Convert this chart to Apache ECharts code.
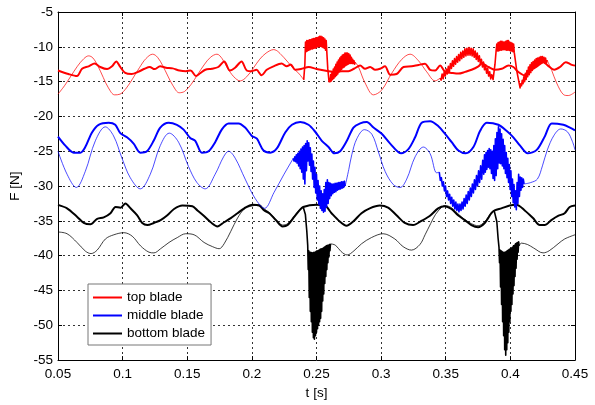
<!DOCTYPE html>
<html><head><meta charset="utf-8">
<script src="https://cdn.jsdelivr.net/npm/echarts@6/dist/echarts.min.js"></script>
<style>html,body{margin:0;padding:0;background:#fff}#c{width:595px;height:405px}</style>
</head><body><div id="c"></div>
<script>
// ---- data: [t (s), F (N)] ; null marks a gap between segments ----
const topThick = [[0.05,-13.4],[0.058,-13.9],[0.0647,-14.2],[0.0686,-13.15],[0.0737,-12.8],[0.0784,-12.4],[0.0827,-12.9],[0.088,-13.2],[0.0918,-12.8],[0.0951,-12.1],[0.0982,-12.9],[0.102,-13.75],[0.107,-13.9],[0.112,-13.6],[0.117,-13.15],[0.121,-12.9],[0.1247,-13.2],[0.129,-12.8],[0.1335,-13.0],[0.1387,-13.1],[0.144,-13.4],[0.149,-13.5],[0.1526,-13.4],[0.1567,-14.2],[0.160,-13.8],[0.164,-13.3],[0.169,-13.15],[0.174,-12.9],[0.1786,-12.1],[0.183,-13.4],[0.187,-13.0],[0.192,-12.1],[0.196,-13.4],[0.2,-13.5],[0.2035,-13.3],[0.2075,-14.1],[0.2115,-13.3],[0.2167,-12.8],[0.223,-12.4],[0.227,-12.8],[0.230,-12.55],[0.2335,-13.3],[0.238,-13.2],[0.244,-12.9],[0.250,-13.2],[0.2593,-13.5],[0.2644,-13.6],[0.2696,-13.5],[0.2747,-13.5],[0.279,-13.15],[0.2838,-12.7],[0.2876,-13.15],[0.2915,-12.9],[0.2954,-13.3],[0.2992,-13.15],[0.303,-12.8],[0.307,-14.0],[0.312,-13.9],[0.3173,-12.9],[0.3237,-12.8],[0.3289,-12.6],[0.334,-12.45],[0.3379,-13.3],[0.3418,-13.4],[0.3456,-12.7],[0.3495,-13.6],[0.3546,-13.75],[0.3598,-13.85],[0.365,-13.6],[0.370,-13.3],[0.3753,-12.8],[0.378,-12.4],[0.383,-12.9],[0.388,-13.3],[0.3933,-13.15],[0.3985,-12.7],[0.4023,-12.9],[0.406,-13.6],[0.4108,-14.1],[0.415,-13.4],[0.420,-12.9],[0.4255,-12.2],[0.429,-12.7],[0.434,-13.3],[0.4384,-12.9],[0.4428,-12.2],[0.447,-12.55],[0.45,-12.7]];

const topThin = [[0.05,-16.8],[0.055,-15.6],[0.06,-14.2],[0.065,-12.8],[0.07,-11.7],[0.0737,-11.3],[0.077,-11.6],[0.081,-12.8],[0.085,-14.4],[0.089,-15.9],[0.0938,-16.9],[0.098,-16.8],[0.103,-15.9],[0.108,-14.5],[0.113,-13.0],[0.118,-11.7],[0.1232,-11.06],[0.127,-11.5],[0.131,-12.7],[0.135,-14.2],[0.139,-15.6],[0.1438,-16.6],[0.148,-16.4],[0.153,-15.4],[0.158,-14.0],[0.163,-12.6],[0.168,-11.5],[0.173,-11.06],[0.177,-11.7],[0.181,-13.0],[0.186,-14.3],[0.191,-14.9],[0.196,-14.3],[0.201,-13.1],[0.206,-11.8],[0.211,-10.9],[0.2168,-10.4],[0.2246,-11.5],[0.231,-12.9],[0.2362,-13.8],[0.2388,-14.4],[0.2401,-14.75],
[0.2801,null],
[0.2800,-12.2],[0.2825,-12.9],[0.2876,-15.2],[0.2941,-16.9],[0.3005,-16.2],[0.3082,-13.8],[0.316,-11.8],[0.3224,-11.06],[0.3289,-12.0],[0.3353,-13.6],[0.3418,-14.9],[0.3456,-14.5],
[0.4280,null],
[0.4284,-11.9],[0.432,-13.4],[0.4358,-15.2],[0.441,-16.85],[0.4448,-17.0],[0.45,-16.5]];

const topBurst = [[0.2401,-14.75],[0.2410,-12.5],
[0.2415,-9.3],[0.2420,-10.7],[0.2425,-9.1],[0.2430,-10.6],[0.2435,-9.1],[0.2440,-10.5],[0.2445,-9.0],[0.2450,-10.4],[0.2455,-9.0],[0.2460,-10.3],[0.2465,-8.9],[0.2470,-10.3],[0.2475,-8.8],[0.2480,-10.2],[0.2485,-8.8],[0.2490,-10.2],[0.2495,-8.7],[0.2500,-10.1],[0.2505,-8.7],[0.2510,-10.0],[0.2515,-8.6],[0.2520,-10.0],[0.2525,-8.5],[0.2530,-9.9],[0.2535,-8.5],[0.2540,-10.0],[0.2545,-8.6],[0.2550,-10.1],[0.2555,-8.7],[0.2560,-10.2],[0.2565,-8.9],[0.2570,-10.5],[0.2575,-9.1],[0.2580,-10.8],[0.2587,-13.1],[0.2597,-15.0],
[0.2600,-14.6],[0.2605,-15.0],[0.2610,-14.0],[0.2615,-14.9],[0.2620,-13.6],[0.2625,-14.7],[0.2630,-13.2],[0.2635,-14.5],[0.2640,-12.9],[0.2645,-14.3],[0.2650,-12.5],[0.2655,-14.1],[0.2660,-12.2],[0.2665,-13.9],[0.2670,-11.9],[0.2675,-13.6],[0.2680,-11.6],[0.2685,-13.4],[0.2690,-11.4],[0.2695,-13.2],[0.2700,-11.2],[0.2705,-13.0],[0.2710,-11.1],[0.2715,-12.9],[0.2720,-10.9],[0.2725,-12.7],[0.2730,-10.9],[0.2735,-12.6],[0.2740,-10.9],[0.2745,-12.5],[0.2750,-11.0],[0.2755,-12.4],[0.2760,-11.2],[0.2765,-12.4],[0.2770,-11.5],[0.2775,-12.4],[0.2780,-11.8],[0.2785,-12.4],[0.2790,-12.0],[0.2795,-12.5],[0.2800,-12.2],
[0.3450,null],
[0.3456,-14.5],[0.3464,-14.8],[0.3472,-13.9],[0.3480,-14.6],[0.3488,-13.6],[0.3496,-14.2],[0.3504,-13.2],[0.3512,-13.9],[0.3520,-12.8],[0.3528,-13.6],[0.3536,-12.4],[0.3544,-13.1],[0.3552,-12.0],[0.3560,-12.8],[0.3568,-11.7],[0.3576,-12.5],[0.3584,-11.4],[0.3592,-12.2],[0.3600,-11.1],[0.3608,-12.0],[0.3616,-10.8],[0.3624,-11.7],[0.3632,-10.6],[0.3640,-11.5],[0.3648,-10.3],[0.3656,-11.3],[0.3664,-10.2],[0.3672,-11.2],[0.3680,-10.1],[0.3688,-11.2],[0.3696,-10.2],[0.3704,-11.3],[0.3712,-10.3],[0.3720,-11.5],[0.3728,-10.6],[0.3736,-11.8],[0.3744,-10.9],[0.3752,-12.1],[0.3760,-11.3],[0.3768,-12.4],[0.3776,-11.8],[0.3784,-12.9],[0.3792,-12.2],[0.3800,-13.3],[0.3808,-12.6],[0.3816,-13.8],[0.3824,-13.1],[0.3832,-14.2],[0.3840,-13.6],[0.3848,-14.6],[0.3856,-14.0],[0.3866,-14.7],[0.3881,-12.5],[0.3890,-10.5],
[0.3895,-9.6],[0.3900,-10.6],[0.3905,-9.4],[0.3910,-10.6],[0.3915,-9.3],[0.3920,-10.5],[0.3925,-9.2],[0.3930,-10.5],[0.3935,-9.2],[0.3940,-10.4],[0.3945,-9.3],[0.3950,-10.4],[0.3955,-9.3],[0.3960,-10.4],[0.3965,-9.2],[0.3970,-10.5],[0.3975,-9.1],[0.3980,-10.5],[0.3985,-9.1],[0.3990,-10.5],[0.3995,-9.3],[0.4000,-10.6],[0.4005,-9.4],[0.4010,-10.6],[0.4015,-9.5],[0.4020,-10.7],[0.4025,-9.6],[0.4030,-10.8],[0.4049,-13.4],[0.4075,-15.9],
[0.4080,-15.3],[0.4086,-15.6],[0.4092,-14.8],[0.4098,-15.3],[0.4104,-14.3],[0.4110,-15.0],[0.4116,-13.8],[0.4122,-14.7],[0.4128,-13.4],[0.4134,-14.3],[0.4140,-12.9],[0.4146,-14.0],[0.4152,-12.6],[0.4158,-13.7],[0.4164,-12.3],[0.4170,-13.4],[0.4176,-12.1],[0.4182,-13.1],[0.4188,-11.9],[0.4194,-12.9],[0.4200,-11.7],[0.4206,-12.7],[0.4212,-11.6],[0.4218,-12.5],[0.4224,-11.5],[0.4230,-12.4],[0.4236,-11.4],[0.4242,-12.3],[0.4248,-11.4],[0.4254,-12.2],[0.4260,-11.5],[0.4266,-12.3],[0.4272,-11.6],[0.4278,-12.4],[0.4284,-11.9]];

const midThick = [[0.05,-22.9],[0.0557,-24.2],[0.0621,-25.2],[0.0673,-25.2],[0.0711,-24.4],[0.0763,-22.3],[0.0814,-21.2],[0.0892,-20.9],[0.0943,-21.2],[0.0982,-22.4],[0.1034,-23.0],[0.1085,-23.9],[0.1137,-25.2],[0.1188,-25.0],[0.124,-23.5],[0.1291,-21.6],[0.1356,-20.9],[0.142,-21.2],[0.1472,-21.9],[0.1523,-23.1],[0.1562,-23.5],[0.1613,-25.2],[0.1665,-25.0],[0.1716,-23.7],[0.1768,-21.85],[0.182,-21.0],[0.1897,-21.0],[0.1948,-21.6],[0.2,-22.8],[0.2039,-23.2],[0.209,-24.9],[0.2142,-25.2],[0.2193,-24.6],[0.2258,-22.3],[0.231,-21.2],[0.2374,-20.8],[0.2438,-21.2],[0.249,-22.2],[0.2541,-23.5],[0.2593,-24.4],[0.2639,-25.3],[0.2683,-25.0],[0.2735,-23.5],[0.2786,-21.6],[0.2838,-21.0],[0.2889,-20.8],[0.2941,-21.6],[0.3005,-22.5],[0.307,-23.9],[0.3155,-25.3],[0.3211,-24.7],[0.3263,-23.0],[0.3314,-20.9],[0.3379,-20.7],[0.3443,-21.4],[0.3495,-22.5],[0.3546,-23.7],[0.3598,-24.9],[0.3655,-25.3],[0.3714,-24.4],[0.3765,-22.1],[0.3817,-20.9],[0.3907,-21.2],[0.3972,-22.1],[0.4023,-23.0],[0.4075,-24.2],[0.4134,-25.3],[0.4204,-24.8],[0.4268,-22.8],[0.432,-21.0],[0.441,-21.2],[0.4461,-21.6],[0.45,-22.0]];

const midThin = [[0.05,-25.0],[0.057,-28.3],[0.0642,-30.2],[0.0711,-27.9],[0.0789,-23.5],[0.0866,-21.5],[0.093,-22.8],[0.0995,-26.0],[0.1059,-28.8],[0.1137,-30.4],[0.1214,-28.3],[0.1291,-24.2],[0.1361,-22.4],[0.1433,-23.7],[0.151,-27.2],[0.1575,-29.5],[0.1639,-30.4],[0.1716,-28.3],[0.1781,-25.8],[0.182,-25.0],[0.1871,-26.0],[0.1948,-29.0],[0.2026,-31.8],[0.2098,-33.2],[0.2172,-30.9],[0.2249,-28.3],[0.2313,-26.25],[0.2320,-26.0],
[0.2721,null],
[0.2722,-30.0],[0.2750,-27.6],[0.2773,-25.5],[0.2812,-23.2],[0.2871,-21.9],[0.2928,-22.55],[0.2979,-25.1],[0.3031,-27.9],[0.3095,-29.8],[0.3147,-30.2],[0.3198,-29.0],[0.3263,-25.8],[0.3327,-24.4],[0.3379,-25.35],[0.3430,-28.1],[0.3450,-28.0],
[0.4105,null],
[0.4106,-29.7],[0.4157,-29.5],[0.4209,-29.0],[0.4248,-27.1],[0.4286,-24.8],[0.4338,-22.7],[0.439,-21.8],[0.4441,-22.2],[0.448,-23.6],[0.45,-24.8]];

const midBurst = [[0.2320,-26.0],[0.2326,-26.4],[0.2332,-25.8],[0.2338,-26.5],[0.2344,-25.5],[0.2350,-26.7],[0.2356,-25.3],[0.2362,-27.1],[0.2368,-25.0],[0.2374,-27.5],[0.2380,-24.7],[0.2386,-28.0],[0.2392,-24.4],[0.2398,-29.0],[0.2404,-24.2],[0.2410,-29.7],[0.2416,-23.9],[0.2422,-27.8],[0.2428,-23.5],[0.2434,-26.4],[0.2440,-23.8],[0.2446,-27.0],[0.2452,-24.5],[0.2458,-27.9],[0.2464,-25.4],[0.2470,-29.0],[0.2476,-26.4],[0.2482,-30.2],[0.2488,-27.3],[0.2494,-31.0],[0.2500,-28.3],[0.2506,-32.0],[0.2512,-29.2],[0.2518,-32.6],[0.2524,-30.0],[0.2530,-33.2],[0.2536,-30.7],[0.2542,-33.5],[0.2548,-31.1],[0.2554,-33.75],[0.2560,-30.5],[0.2566,-33.6],[0.2572,-29.5],[0.2578,-33.0],[0.2584,-29.1],[0.2590,-32.5],[0.2596,-29.5],[0.2602,-31.8],[0.2608,-29.6],[0.2614,-31.4],[0.2620,-29.7],[0.2626,-31.1],[0.2632,-29.7],[0.2638,-30.9],[0.2644,-29.6],[0.2650,-30.8],[0.2656,-29.6],[0.2662,-30.6],[0.2668,-29.5],[0.2674,-30.5],[0.2680,-29.5],[0.2686,-30.4],[0.2692,-29.4],[0.2698,-30.3],[0.2704,-29.4],[0.2710,-30.2],[0.2716,-29.3],[0.2722,-30.0],
[0.3440,null],
[0.3450,-28.0],[0.3458,-29.2],[0.3466,-28.8],[0.3474,-30.0],[0.3482,-29.4],[0.3490,-30.7],[0.3498,-30.0],[0.3506,-31.5],[0.3514,-30.7],[0.3522,-32.0],[0.3530,-31.2],[0.3538,-32.5],[0.3546,-31.6],[0.3554,-32.9],[0.3562,-32.0],[0.3570,-33.3],[0.3578,-32.3],[0.3586,-33.5],[0.3594,-32.6],[0.3602,-33.7],[0.3610,-32.6],[0.3618,-33.5],[0.3626,-32.3],[0.3634,-33.3],[0.3642,-31.8],[0.3650,-32.9],[0.3658,-31.3],[0.3666,-32.5],[0.3674,-30.8],[0.3682,-32.0],[0.3690,-30.3],[0.3698,-31.5],[0.3706,-29.7],[0.3714,-31.0],[0.3722,-29.1],[0.3730,-30.5],[0.3738,-28.5],[0.3746,-30.0],[0.3754,-27.8],[0.3762,-29.5],[0.3770,-27.1],[0.3778,-29.0],[0.3786,-26.3],[0.3794,-28.3],[0.3800,-25.5],[0.3806,-28.0],[0.3812,-25.2],[0.3818,-27.6],[0.3824,-24.9],[0.3830,-27.3],[0.3836,-24.6],[0.3842,-27.5],[0.3848,-24.8],[0.3854,-28.2],[0.3860,-25.0],[0.3866,-28.9],[0.3872,-24.2],[0.3878,-29.2],[0.3884,-23.2],[0.3890,-28.5],[0.3896,-22.3],[0.3902,-27.5],[0.3908,-21.5],[0.3914,-26.7],[0.3920,-21.8],[0.3926,-26.8],[0.3932,-22.5],[0.3938,-27.1],[0.3944,-23.3],[0.3950,-27.5],[0.3956,-24.2],[0.3962,-28.2],[0.3968,-25.2],[0.3974,-28.8],[0.3980,-26.0],[0.3986,-29.5],[0.3992,-26.9],[0.3998,-30.5],[0.4004,-27.8],[0.4010,-31.5],[0.4016,-29.0],[0.4022,-32.4],[0.4028,-29.8],[0.4034,-33.0],[0.4040,-30.7],[0.4046,-33.4],[0.4052,-29.5],[0.4058,-32.5],[0.4064,-28.3],[0.4070,-31.5],[0.4076,-28.7],[0.4082,-30.6],[0.4088,-28.8],[0.4094,-30.2],[0.4100,-29.0],[0.4106,-29.7]];

const botThick = [[0.05,-32.7],[0.057,-33.2],[0.0647,-34.4],[0.0699,-35.3],[0.0751,-35.5],[0.0803,-34.7],[0.0854,-34.5],[0.0906,-33.9],[0.0945,-33.0],[0.0984,-33.1],[0.1022,-32.5],[0.1061,-33.2],[0.1113,-34.2],[0.1152,-35.3],[0.1191,-35.6],[0.1242,-35.3],[0.1294,-34.9],[0.1346,-34.2],[0.1398,-33.3],[0.1462,-32.8],[0.154,-32.9],[0.1579,-33.5],[0.163,-34.3],[0.1682,-35.2],[0.1734,-35.8],[0.1785,-35.2],[0.1837,-34.6],[0.1889,-33.9],[0.1941,-33.2],[0.2005,-32.7],[0.2057,-32.8],[0.2096,-33.5],[0.2135,-33.9],[0.2186,-34.9],[0.2238,-35.8],[0.2277,-35.6],[0.2329,-34.4],[0.2368,-33.5],[0.2397,-33.0],[0.25,-32.7],[0.2564,-32.8],[0.2616,-33.9],[0.268,-35.1],[0.2732,-35.7],[0.2784,-35.1],[0.2848,-33.9],[0.2912,-33.2],[0.299,-32.8],[0.3054,-33.1],[0.3119,-34.2],[0.3183,-35.3],[0.3247,-35.6],[0.3312,-35.0],[0.3376,-34.3],[0.3441,-33.2],[0.3492,-32.9],[0.3544,-33.3],[0.3595,-34.2],[0.3647,-34.9],[0.3698,-35.6],[0.375,-35.9],[0.3802,-35.3],[0.3853,-33.9],[0.3879,-33.5],[0.393,-33.2],[0.3995,-32.8],[0.4046,-32.7],[0.4111,-33.5],[0.4175,-34.6],[0.4227,-35.6],[0.4265,-35.6],[0.4317,-34.9],[0.4369,-34.3],[0.442,-33.9],[0.4459,-33.0],[0.45,-32.8]];

const botThin = [[0.05,-36.6],[0.057,-36.85],[0.0647,-38.1],[0.0712,-39.35],[0.0756,-39.7],[0.0803,-39.2],[0.0867,-37.6],[0.0932,-37.0],[0.101,-36.7],[0.1074,-37.2],[0.1139,-38.6],[0.1204,-39.5],[0.1242,-39.6],[0.1294,-39.0],[0.1359,-38.1],[0.1423,-37.4],[0.1488,-36.85],[0.1553,-37.0],[0.163,-38.1],[0.1695,-38.7],[0.1747,-39.0],[0.1785,-38.3],[0.1837,-36.5],[0.1889,-34.6],[0.1941,-33.3],[0.1992,-32.9],[0.2057,-32.7],[0.2096,-33.3],[0.2135,-33.8],[0.2186,-34.8],[0.2238,-35.6],[0.2277,-35.4],[0.2329,-34.3],[0.2368,-33.4],[0.2397,-33.0],
[0.2500,null],
[0.2608,-38.3],[0.2647,-38.5],[0.2690,-39.4],[0.2737,-39.9],[0.2790,-39.3],[0.2848,-38.3],[0.2925,-37.4],[0.3015,-36.85],[0.3106,-37.6],[0.3170,-38.7],[0.3235,-39.2],[0.3300,-38.4],[0.3340,-37.0],[0.3383,-35.4],[0.3420,-34.1],[0.3466,-33.1],[0.3492,-32.8],[0.3544,-33.1],[0.3595,-34.0],[0.3647,-34.8],[0.3698,-35.4],[0.375,-35.7],[0.3802,-35.1],[0.3853,-33.8],[0.3874,-33.5],
[0.3950,null],
[0.4068,-38.6],[0.4085,-38.2],[0.4133,-38.4],[0.418,-38.9],[0.4253,-39.6],[0.430,-39.3],[0.4369,-38.3],[0.442,-37.6],[0.45,-37.0]];

const botBurst = [[0.2397,-33.0],[0.2414,-34.1],[0.2425,-36.5],
[0.2432,-38.5],[0.2436,-42],[0.2440,-39.3],[0.2444,-46],[0.2448,-39.5],[0.2452,-48],[0.2456,-39.5],[0.2460,-49.5],[0.2464,-39.6],[0.2468,-51],[0.2472,-39.6],[0.2476,-51.8],[0.2480,-39.5],[0.2484,-52],[0.2488,-39.5],[0.2492,-51.5],[0.2496,-39.4],[0.2500,-51],[0.2504,-39.3],[0.2508,-50.5],[0.2512,-39.3],[0.2516,-50],[0.2520,-39.2],[0.2524,-49.5],[0.2528,-39.1],[0.2532,-49],[0.2536,-39],[0.2540,-48],[0.2544,-39],[0.2548,-46.5],[0.2552,-38.9],[0.2556,-45.5],[0.2560,-38.8],[0.2564,-44],[0.2568,-38.7],[0.2572,-43],[0.2576,-38.6],[0.2580,-42],[0.2584,-38.5],[0.2588,-41],[0.2592,-38.5],[0.2596,-40.2],[0.2600,-38.4],[0.2604,-39.3],[0.2608,-38.3],
[0.3000,null],
[0.3874,-33.5],[0.3895,-35.1],[0.3905,-37.5],
[0.3912,-38.8],[0.3916,-41],[0.3920,-39.2],[0.3924,-44.5],[0.3928,-39.3],[0.3932,-47],[0.3936,-39.4],[0.3940,-49.5],[0.3944,-39.5],[0.3948,-51.5],[0.3952,-39.5],[0.3956,-53.5],[0.3960,-39.5],[0.3964,-54.3],[0.3968,-39.4],[0.3972,-53.5],[0.3976,-39.3],[0.3980,-52.5],[0.3984,-39.2],[0.3988,-51],[0.3992,-39.1],[0.3996,-49.5],[0.4000,-39],[0.4004,-48],[0.4008,-38.9],[0.4012,-47],[0.4016,-38.8],[0.4020,-45.5],[0.4024,-38.6],[0.4028,-44.3],[0.4032,-38.5],[0.4036,-43],[0.4040,-38.3],[0.4044,-41.8],[0.4048,-38.2],[0.4052,-40.5],[0.4056,-38.1],[0.4060,-39.5],[0.4064,-38.0],[0.4068,-38.6]];

const xTickLabels = ['0.05','0.1','0.15','0.2','0.25','0.3','0.35','0.4','0.45'];
const yTickLabels = ['-55','-50','-45','-40','-35','-30','-25','-20','-15','-10','-5'];
const legendNames = ['top blade','middle blade','bottom blade'];

// ---- chart ----
const FONT = '"Liberation Sans", Arial, sans-serif';
const chart = echarts.init(document.getElementById('c'), null, {renderer:'canvas'});
const gridLine = {show:true, lineStyle:{color:'#333', type:[2,3], width:1}};
const xBase = {type:'value', min:0.05, max:0.45, interval:0.05,
  axisLine:{show:true, onZero:false, lineStyle:{color:'#000', width:1}},
  axisTick:{show:true, inside:true, length:4, lineStyle:{color:'#000'}}};
const yBase = {type:'value', min:-55, max:-5, interval:5,
  axisLine:{show:true, onZero:false, lineStyle:{color:'#000', width:1}},
  axisTick:{show:true, inside:true, length:4, lineStyle:{color:'#000'}}};

function xLab(v){ const i = Math.round((v-0.05)/0.05); return xTickLabels[i] ?? ''; }
function yLab(v){ const i = Math.round((v+55)/5); return yTickLabels[i] ?? ''; }

function line(name, data, color, width, smooth, z){
  return {type:'line', name, data, showSymbol:false, symbol:'none', smooth,
    connectNulls:false, silent:true, animation:false, z,
    lineStyle:{color, width, join:'round'}, itemStyle:{color}};
}

chart.setOption({
  animation:false,
  backgroundColor:'#fff',
  grid:{left:58, right:20, top:12, bottom:36, containLabel:false},
  xAxis:[
    Object.assign({}, xBase, {position:'bottom',
      name:'t [s]', nameLocation:'middle', nameGap:21,
      nameTextStyle:{fontFamily:FONT, fontSize:13.5, color:'#000'},
      axisLabel:{formatter:xLab, fontFamily:FONT, fontSize:13.5, color:'#000', margin:7},
      splitLine:gridLine}),
    Object.assign({}, xBase, {position:'top', axisLabel:{show:false}, splitLine:{show:false}})
  ],
  yAxis:[
    Object.assign({}, yBase, {position:'left',
      name:'F [N]', nameLocation:'middle', nameGap:31, nameRotate:90,
      nameTextStyle:{fontFamily:FONT, fontSize:13.5, color:'#000'},
      axisLabel:{formatter:yLab, fontFamily:FONT, fontSize:13.5, color:'#000', margin:5},
      splitLine:gridLine}),
    Object.assign({}, yBase, {position:'right', axisLabel:{show:false}, splitLine:{show:false}})
  ],
  legend:{data:legendNames, orient:'vertical', left:88, top:284,
    icon:'rect', itemWidth:29, itemHeight:2, itemGap:3, padding:[6,6,4,5],
    borderColor:'#777', borderWidth:1, backgroundColor:'#fff', borderRadius:0,
    textStyle:{fontFamily:FONT, fontSize:13.5, color:'#000', lineHeight:15}, selectedMode:false, z:20},
  series:[
    line('top blade', topThick, '#ff0000', 2, 0.3, 2),
    line('middle blade', midThick, '#0000ff', 2, 0.3, 2),
    line('bottom blade', botThick, '#000000', 2, 0.3, 2),
    line('bottom thin', botThin, 'rgba(0,0,0,0.75)', 1, 0.35, 3),
    line('bottom burst', botBurst, '#000000', 1.6, false, 3),
    line('top thin', topThin, 'rgba(255,0,0,0.7)', 1, 0.35, 3),
    line('top burst', topBurst, '#ff0000', 1.6, false, 3),
    line('middle thin', midThin, 'rgba(0,0,255,0.7)', 1, 0.35, 4),
    line('middle burst', midBurst, '#0000ff', 1.6, false, 4)
  ]
});
</script>
</body></html>
